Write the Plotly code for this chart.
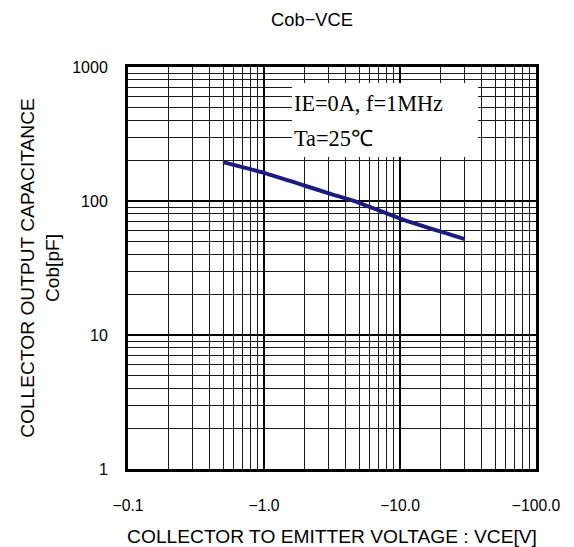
import plotly.graph_objects as go

# Cob vs VCE curve (magnitudes of VCE; axis labels show the negative polarity)
vce_mag = [0.5, 1.0, 2.0, 3.0, 5.0, 10.0, 20.0, 30.0]
cob_pf = [195, 162, 130, 114, 97, 74, 59, 52]

x_tickvals = [0.1, 1, 10, 100]
x_ticktext = ["\u22120.1", "\u22121.0", "\u221210.0", "\u2212100.0"]
y_tickvals = [1, 10, 100, 1000]
y_ticktext = ["1", "10", "100", "1000"]

# minor grid at 2..9 of every decade
x_minor = [k * d for d in [0.1, 1, 10] for k in range(2, 10)]
y_minor = [k * d for d in [1, 10, 100] for k in range(2, 10)]

sans = "Liberation Sans, Arial, sans-serif"
serif = "Liberation Serif, Times New Roman, serif"

fig = go.Figure()
fig.add_trace(go.Scatter(
    x=vce_mag, y=cob_pf, mode="lines",
    line=dict(color="#1c1c7c", width=4, shape="spline", smoothing=0.6),
    hoverinfo="skip", showlegend=False,
))

axis_common = dict(
    type="log", automargin=False,
    showline=True, mirror=True, linecolor="black", linewidth=3,
    showgrid=True, gridcolor="black", gridwidth=2,
    ticks="", zeroline=False,
)

fig.update_xaxes(
    **axis_common,
    range=[-1, 2],
    tickmode="array", tickvals=x_tickvals, ticktext=x_ticktext,
    tickfont=dict(family=sans, size=15.7, color="black"),
    ticklabelstandoff=20,
    minor=dict(tickmode="array", tickvals=x_minor, showgrid=True,
               gridcolor="#1a1a1a", gridwidth=1, ticks=""),
    title=dict(text="COLLECTOR TO EMITTER VOLTAGE : VCE[V]",
               font=dict(family=sans, size=19.2, color="black"), standoff=22),
)
fig.update_yaxes(
    **axis_common,
    range=[0, 3],
    tickmode="array", tickvals=y_tickvals, ticktext=y_ticktext,
    tickfont=dict(family=sans, size=16, color="black"),
    ticklabelstandoff=14,
    minor=dict(tickmode="array", tickvals=y_minor, showgrid=True,
               gridcolor="#1a1a1a", gridwidth=1, ticks=""),
    title=dict(text="COLLECTOR OUTPUT CAPACITANCE<br>Cob[pF]",
               font=dict(family=sans, size=19.2, color="black"), standoff=8),
)

# condition label box
fig.add_shape(type="rect", xref="paper", yref="paper",
              x0=0.402, x1=0.858, y0=0.776, y1=0.960,
              fillcolor="white", line=dict(width=0), layer="above")
fig.add_annotation(text="IE=0A, f=1MHz", xref="paper", yref="paper",
                   x=0.402, y=0.910, xanchor="left", yanchor="middle",
                   showarrow=False, font=dict(family=serif, size=22.3, color="black"))
fig.add_annotation(text="Ta=25\u2103", xref="paper", yref="paper",
                   x=0.402, y=0.823, xanchor="left", yanchor="middle",
                   showarrow=False, font=dict(family=serif, size=22.3, color="black"))

fig.update_layout(
    width=574, height=547,
    margin=dict(l=128, r=38, t=67, b=78),
    paper_bgcolor="white", plot_bgcolor="white",
    title=dict(text="Cob\u2212VCE", x=312 / 574, xanchor="center", y=1 - 20 / 547,
               yanchor="middle", font=dict(family=sans, size=18.3, color="black")),
)

fig.write_html("out.html")
